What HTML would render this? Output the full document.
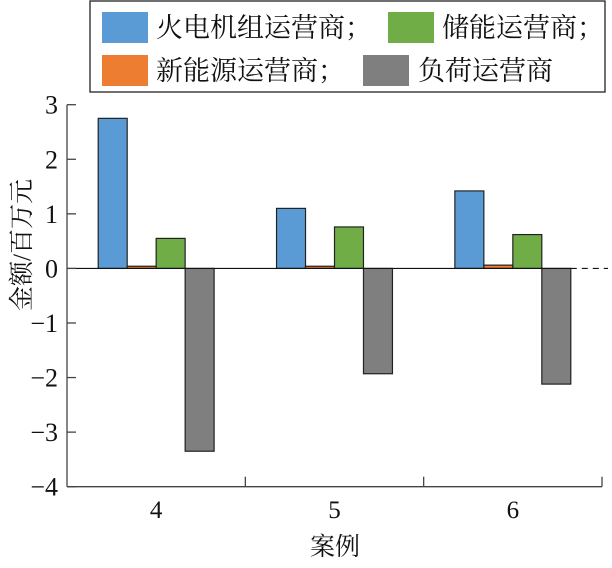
<!DOCTYPE html>
<html><head><meta charset="utf-8"><style>
body{margin:0;background:#fff}
svg text{font-family:"Liberation Serif","Noto Serif CJK SC",serif;fill:#111}
</style></head><body>
<svg width="612" height="563" xmlns="http://www.w3.org/2000/svg">
<g id="legend">
<rect x="90" y="1" width="515" height="91" fill="#fff" stroke="#222" stroke-width="1.3"/>
<rect x="102" y="12" width="46" height="31" fill="#5b9bd5"/>
<text x="156" y="37" font-size="27">火电机组运营商；</text>
<rect x="388" y="12" width="46" height="31" fill="#70ad47"/>
<text x="442" y="37" font-size="27">储能运营商；</text>
<rect x="102" y="55" width="46" height="31" fill="#ed7d31"/>
<text x="156" y="80" font-size="27">新能源运营商；</text>
<rect x="363" y="55" width="46" height="31" fill="#7f7f7f"/>
<text x="418" y="80" font-size="27">负荷运营商</text>
</g>
<g id="plot"></g>
<text transform="translate(30,245) rotate(-90)" text-anchor="middle" font-size="25">金额/百万元</text>
<text x="335" y="555" text-anchor="middle" font-size="25">案例</text>
</svg>
<script>
const categories=["4","5","6"];
const seriesNames=["火电机组运营商","新能源运营商","储能运营商","负荷运营商"];
const thermal=[2.75,1.1,1.42];
const renewable=[0.04,0.04,0.06];
const storage=[0.55,0.76,0.62];
const load=[-3.35,-1.93,-2.12];
const yTicks=[3,2,1,0,-1,-2,-3,-4];
const colors=["#5b9bd5","#ed7d31","#70ad47","#7f7f7f"];
const NS="http://www.w3.org/2000/svg";
const g=document.getElementById('plot');
const X0=67,X1=602,Ytop=104.7,Ybot=486.7,ymax=3,ymin=-4;
const y=v=>Ytop+(ymax-v)/(ymax-ymin)*(Ybot-Ytop);
const gw=(X1-X0)/categories.length;
const xc=i=>X0+gw*(i+0.5);
function el(t,a){const e=document.createElementNS(NS,t);for(const k in a)e.setAttribute(k,a[k]);g.appendChild(e);return e;}
const series=[thermal,renewable,storage,load];
const bw=gw*0.65/4;
categories.forEach((c,i)=>{
  series.forEach((s,j)=>{
    const v=s[i];const x=xc(i)-2*bw+j*bw;
    const r=el('rect',{x:x,y:Math.min(y(v),y(0)),width:bw,height:Math.abs(y(v)-y(0)),fill:colors[j],stroke:'#222','stroke-width':1.2});
    
    
  });
  const t=el('text',{x:xc(i),y:518,'text-anchor':'middle','font-size':25});
  t.textContent=c;
  
  
});
const lastEnd=xc(2)+2*bw;
const z=el('line',{x1:X0,x2:lastEnd,y1:y(0),y2:y(0),stroke:'#111','stroke-width':1.2});


const zd=el('line',{x1:lastEnd,x2:608,y1:y(0),y2:y(0),stroke:'#111','stroke-width':1.2,'stroke-dasharray':'6,5'});


const ya=el('line',{x1:X0,x2:X0,y1:Ytop,y2:Ybot,stroke:'#444','stroke-width':1.3});


const xa=el('line',{x1:X0,x2:X1,y1:Ybot,y2:Ybot,stroke:'#444','stroke-width':1.3});


for(let i=1;i<=categories.length;i++){const xx=X0+gw*i;el('line',{x1:xx,x2:xx,y1:Ybot,y2:Ybot-10,stroke:'#444','stroke-width':1.3});}
yTicks.forEach(v=>{
  el('line',{x1:X0,x2:X0+9,y1:y(v),y2:y(v),stroke:'#444','stroke-width':1.3});
  const t=el('text',{x:58,y:y(v)+9,'text-anchor':'end','font-size':26});
  t.textContent=v<0?'\u2212'+Math.abs(v):String(v);
  
  
});
</script>
</body></html>
